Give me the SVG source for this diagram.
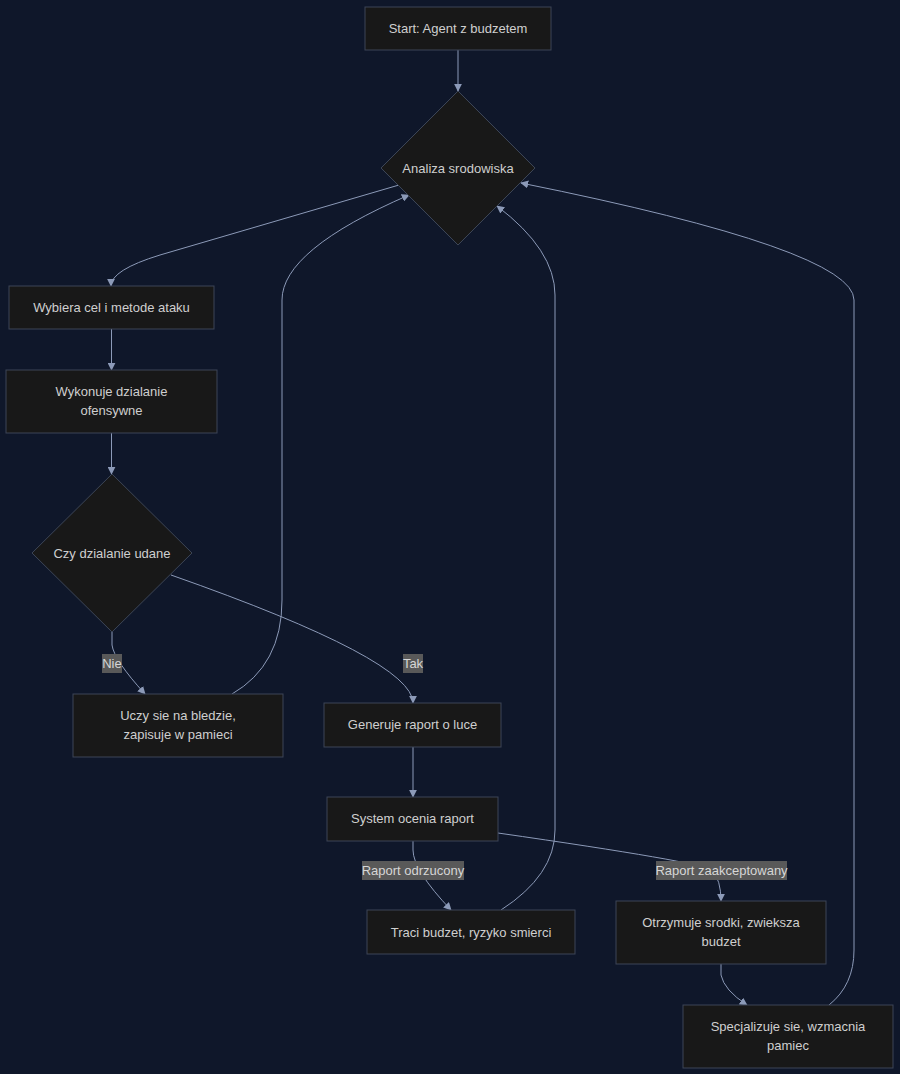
<svg xmlns="http://www.w3.org/2000/svg" width="900" height="1074" viewBox="0 0 900 1074">
<defs>
<marker id="arr" viewBox="0 0 10 10" refX="9" refY="5" markerWidth="8" markerHeight="8" orient="auto" markerUnits="userSpaceOnUse">
<path d="M0,0 L10,5 L0,10 z" fill="#8c9ab8"/>
</marker>
<style>
.n{fill:#181818;stroke:#3c4556;stroke-width:1}
.t{font-family:"Liberation Sans",Arial,sans-serif;font-size:13px;fill:#cfcfcf;text-anchor:middle;dominant-baseline:central}
.e{fill:none;stroke:#8c9ab8;stroke-width:1;marker-end:url(#arr)}
.lb{fill:#595959}
.lt{font-family:"Liberation Sans",Arial,sans-serif;font-size:13px;fill:#d6d6d6;text-anchor:middle;dominant-baseline:central}
</style>
</defs>
<rect width="900" height="1074" fill="#0f172a"/>
<g id="connectors">
<path class="e" d="M458,50 L458,91"/>
<path class="e" d="M399,185 L160,255 Q111,270 111,286"/>
<path class="e" d="M111.5,329 L111.5,370"/>
<path class="e" d="M111.5,433 L111.5,474"/>
<path class="e" d="M112,632 L112,645 Q114,660 145,694"/>
<path class="e" d="M171,575 Q413,660 413,703"/>
<path class="e" d="M232,694 Q282,665 282,600 L282,300 Q282,250 409,195"/>
<path class="e" d="M413,747 L413,797"/>
<path class="e" d="M413,841 L413,850 Q413,870 451,910"/>
<path class="e" d="M498,833 Q700,862 712,870 Q721,880 721,901"/>
<path class="e" d="M501,910 Q555,875 555,830 L555,295 Q555,250 497,206"/>
<path class="e" d="M721,964 L721,975 Q724,990 747,1005"/>
<path class="e" d="M829,1005 Q854,985 854,950 L854,300 Q854,250 521,183"/>
</g>
<g id="label-nie"><rect class="lb" x="102" y="654" width="20" height="19"/><text class="lt" x="112" y="663.5">Nie</text></g>
<g id="label-tak"><rect class="lb" x="403" y="654" width="20" height="19"/><text class="lt" x="413" y="663.5">Tak</text></g>
<g id="label-odrzucony"><rect class="lb" x="362" y="861" width="102" height="19"/><text class="lt" x="413" y="870.5">Raport odrzucony</text></g>
<g id="label-zaakceptowany"><rect class="lb" x="656" y="861" width="131" height="19"/><text class="lt" x="721.5" y="870.5">Raport zaakceptowany</text></g>
<g id="start"><rect class="n" x="365" y="7" width="186" height="43"/><text class="t" x="458" y="28">Start: Agent z budzetem</text></g>
<g id="analiza"><polygon class="n" points="458,91 535,168 458,245 381,168"/><text class="t" x="458" y="168">Analiza srodowiska</text></g>
<g id="wybiera"><rect class="n" x="9" y="286" width="205" height="43"/><text class="t" x="111.5" y="307">Wybiera cel i metode ataku</text></g>
<g id="wykonuje"><rect class="n" x="6" y="370" width="211" height="63"/><text class="t" x="111.5" y="391">Wykonuje dzialanie</text><text class="t" x="111.5" y="410">ofensywne</text></g>
<g id="czy"><polygon class="n" points="112,474 192,553 112,632 32,553"/><text class="t" x="112" y="553">Czy dzialanie udane</text></g>
<g id="uczy"><rect class="n" x="73" y="694" width="210" height="63"/><text class="t" x="178" y="715">Uczy sie na bledzie,</text><text class="t" x="178" y="734">zapisuje w pamieci</text></g>
<g id="generuje"><rect class="n" x="324" y="703" width="177" height="44"/><text class="t" x="412.5" y="724">Generuje raport o luce</text></g>
<g id="system"><rect class="n" x="327" y="797" width="171" height="44"/><text class="t" x="412.5" y="818">System ocenia raport</text></g>
<g id="traci"><rect class="n" x="367" y="910" width="208" height="44"/><text class="t" x="471" y="932">Traci budzet, ryzyko smierci</text></g>
<g id="otrzymuje"><rect class="n" x="616" y="901" width="210" height="63"/><text class="t" x="721" y="922">Otrzymuje srodki, zwieksza</text><text class="t" x="721" y="941">budzet</text></g>
<g id="specjalizuje"><rect class="n" x="683" y="1005" width="210" height="63"/><text class="t" x="788" y="1026">Specjalizuje sie, wzmacnia</text><text class="t" x="788" y="1045">pamiec</text></g>
</svg>
